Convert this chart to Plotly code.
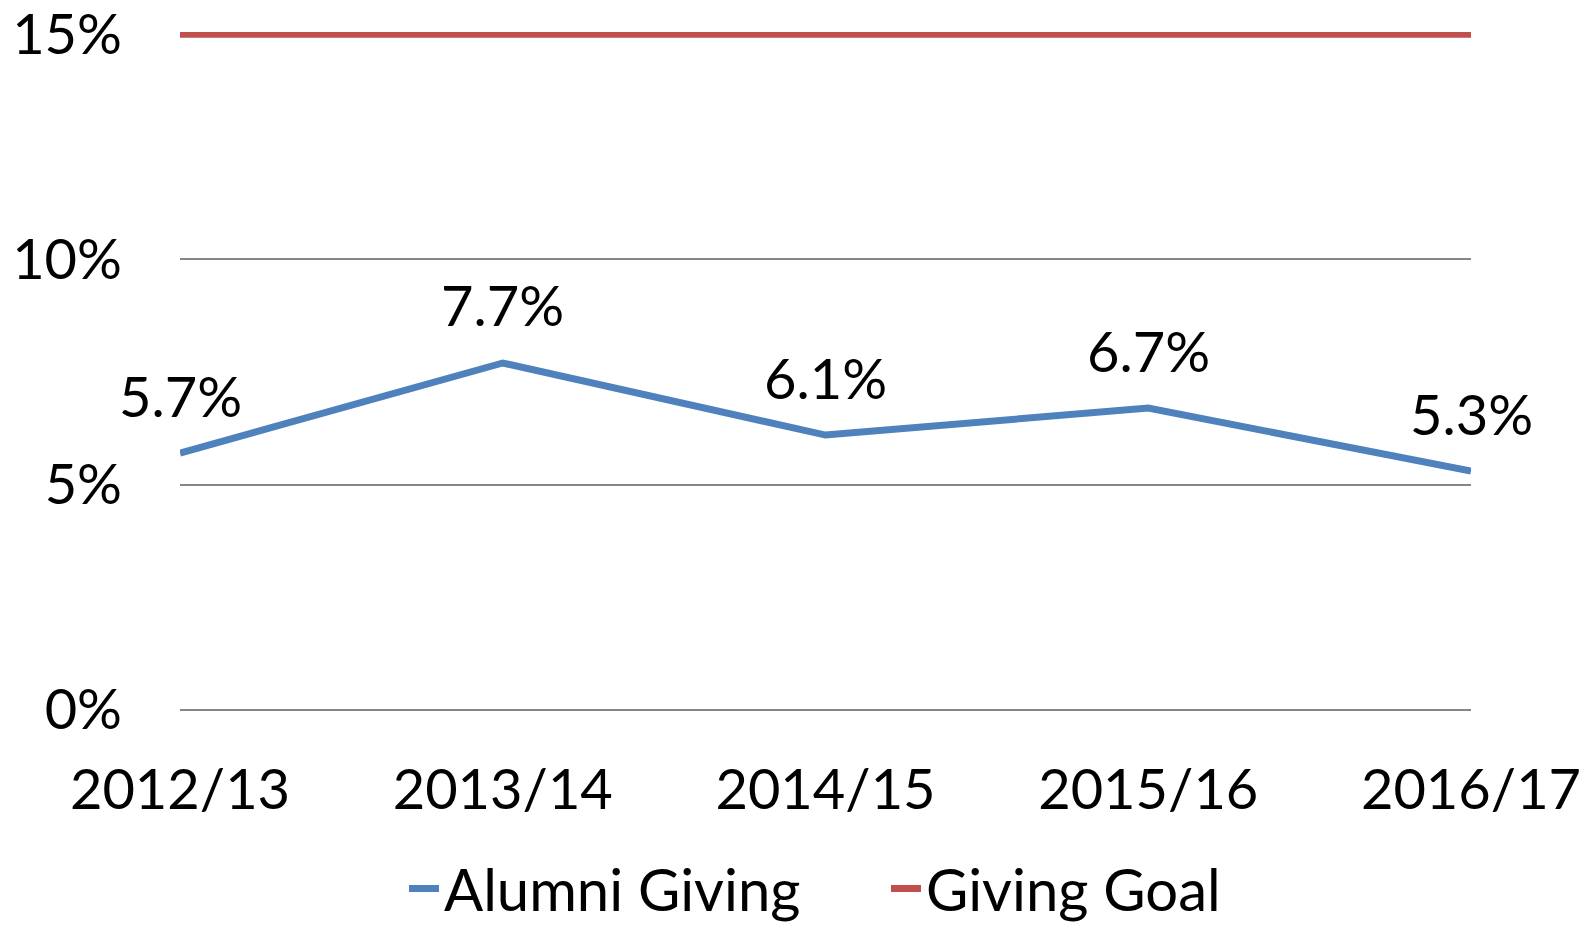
import plotly.graph_objects as go

years = ["2012/13", "2013/14", "2014/15", "2015/16", "2016/17"]
alumni_giving = [5.7, 7.7, 6.1, 6.7, 5.3]
giving_goal = [15, 15, 15, 15, 15]
y_ticks = [0, 5, 10, 15]
y_tick_labels = ["0%", "5%", "10%", "15%"]

BLUE = "#4F81BD"
RED = "#C0504D"
FONT = "Lato, Calibri, sans-serif"

fig = go.Figure()
fig.add_trace(go.Scatter(x=years, y=alumni_giving, mode="lines", name="Alumni Giving",
                         line=dict(color=BLUE, width=7), cliponaxis=False))
fig.add_trace(go.Scatter(x=years, y=giving_goal, mode="lines", name="Giving Goal",
                         line=dict(color=RED, width=7), cliponaxis=False))

for x, v in zip(years, alumni_giving):
    fig.add_annotation(x=x, y=v, text=f"{v:.1f}%", showarrow=False, yshift=58,
                       font=dict(size=56, color="black", family=FONT))

fig.update_layout(
    width=1586, height=919,
    margin=dict(l=172, r=123, t=23.75, b=214.75, autoexpand=False),
    paper_bgcolor="white", plot_bgcolor="white",
    font=dict(family=FONT, size=56, color="black"),
    showlegend=True,
    legend=dict(orientation="h", x=0.1735, y=-0.26, xanchor="left", yanchor="middle",
                font=dict(size=58, color="black", family=FONT),
                entrywidth=437, entrywidthmode="pixels"),
    xaxis=dict(type="category", range=[0, len(years) - 1], showgrid=False, showline=False,
               zeroline=False, ticks="", ticklabelstandoff=40, automargin=False,
               ticklabeloverflow="allow",
               tickfont=dict(size=56, color="black", family=FONT)),
    yaxis=dict(range=[-0.05, 15.05], tickvals=y_ticks, ticktext=y_tick_labels, showgrid=True,
               gridcolor="#868686", gridwidth=2, zeroline=False, showline=False, ticks="",
               ticklabelstandoff=57, automargin=False, ticklabeloverflow="allow",
               tickfont=dict(size=56, color="black", family=FONT)),
)

fig.write_html("out.html")
